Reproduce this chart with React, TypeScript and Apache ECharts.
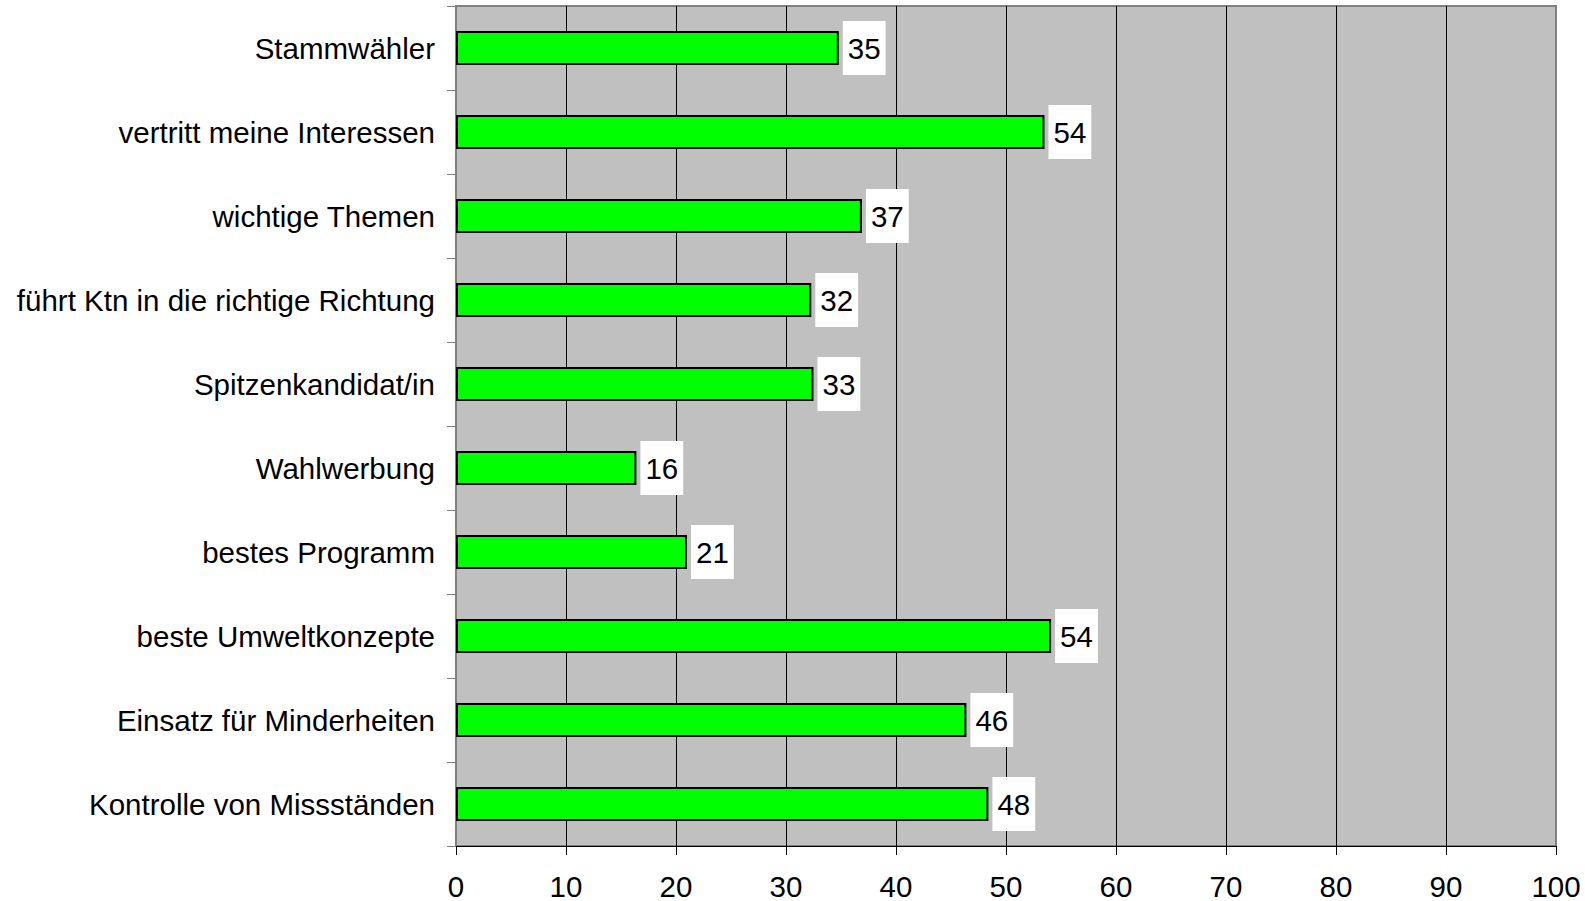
import React, { useEffect, useRef } from "react";
import * as echarts from "echarts";

const categories = [
  "Stammwähler",
  "vertritt meine Interessen",
  "wichtige Themen",
  "führt Ktn in die richtige Richtung",
  "Spitzenkandidat/in",
  "Wahlwerbung",
  "bestes Programm",
  "beste Umweltkonzepte",
  "Einsatz für Minderheiten",
  "Kontrolle von Missständen",
];
const values = [34.8, 53.5, 36.9, 32.3, 32.5, 16.4, 21.0, 54.1, 46.4, 48.4];
const xMin = 0;
const xMax = 100;
const xInterval = 10;

const FONT = "'Liberation Sans', Arial, sans-serif";

export default function App() {
  const ref = useRef<HTMLDivElement>(null);
  useEffect(() => {
    if (!ref.current) return;
    const chart = echarts.init(ref.current, null, { renderer: "svg" });
    chart.setOption({
      animation: false,
      backgroundColor: "#ffffff",
      grid: {
        left: 456,
        top: 6,
        right: 29,
        bottom: 55,
        containLabel: false,
        outerBoundsMode: "none",
        show: true,
        backgroundColor: "#c0c0c0",
        borderColor: "#808080",
        borderWidth: 2,
      },
      xAxis: {
        type: "value",
        min: xMin,
        max: xMax,
        interval: xInterval,
        axisLine: { show: true, lineStyle: { color: "#000", width: 1 } },
        axisTick: { show: true, length: 9, lineStyle: { color: "#000" } },
        axisLabel: {
          fontSize: 29.5,
          fontFamily: FONT,
          color: "#000",
          margin: 25,
        },
        splitLine: {
          show: true,
          showMinLine: false,
          showMaxLine: false,
          lineStyle: { color: "#000", width: 1 },
        },
      },
      yAxis: {
        type: "category",
        data: categories,
        inverse: true,
        axisLine: { show: true, lineStyle: { color: "#808080", width: 2 } },
        axisTick: { show: true, length: 9, lineStyle: { color: "#808080" } },
        axisLabel: {
          fontSize: 29.5,
          fontFamily: FONT,
          color: "#000",
          margin: 21,
        },
        splitLine: { show: false },
      },
      series: [
        {
          type: "bar",
          data: values,
          barWidth: 34,
          itemStyle: { color: "#00ff00", borderColor: "#000", borderWidth: 2 },
          label: {
            show: true,
            position: "right",
            distance: 4,
            formatter: (p: any) => String(Math.round(p.value)),
            backgroundColor: "#ffffff",
            padding: [12, 5, 12, 5],
            fontSize: 29.5,
            fontFamily: FONT,
            color: "#000",
          },
        },
      ],
    });
    return () => chart.dispose();
  }, []);
  return (
    <div
      ref={ref}
      style={{ position: "absolute", left: 0, top: 0, width: 1585, height: 901 }}
    />
  );
}
